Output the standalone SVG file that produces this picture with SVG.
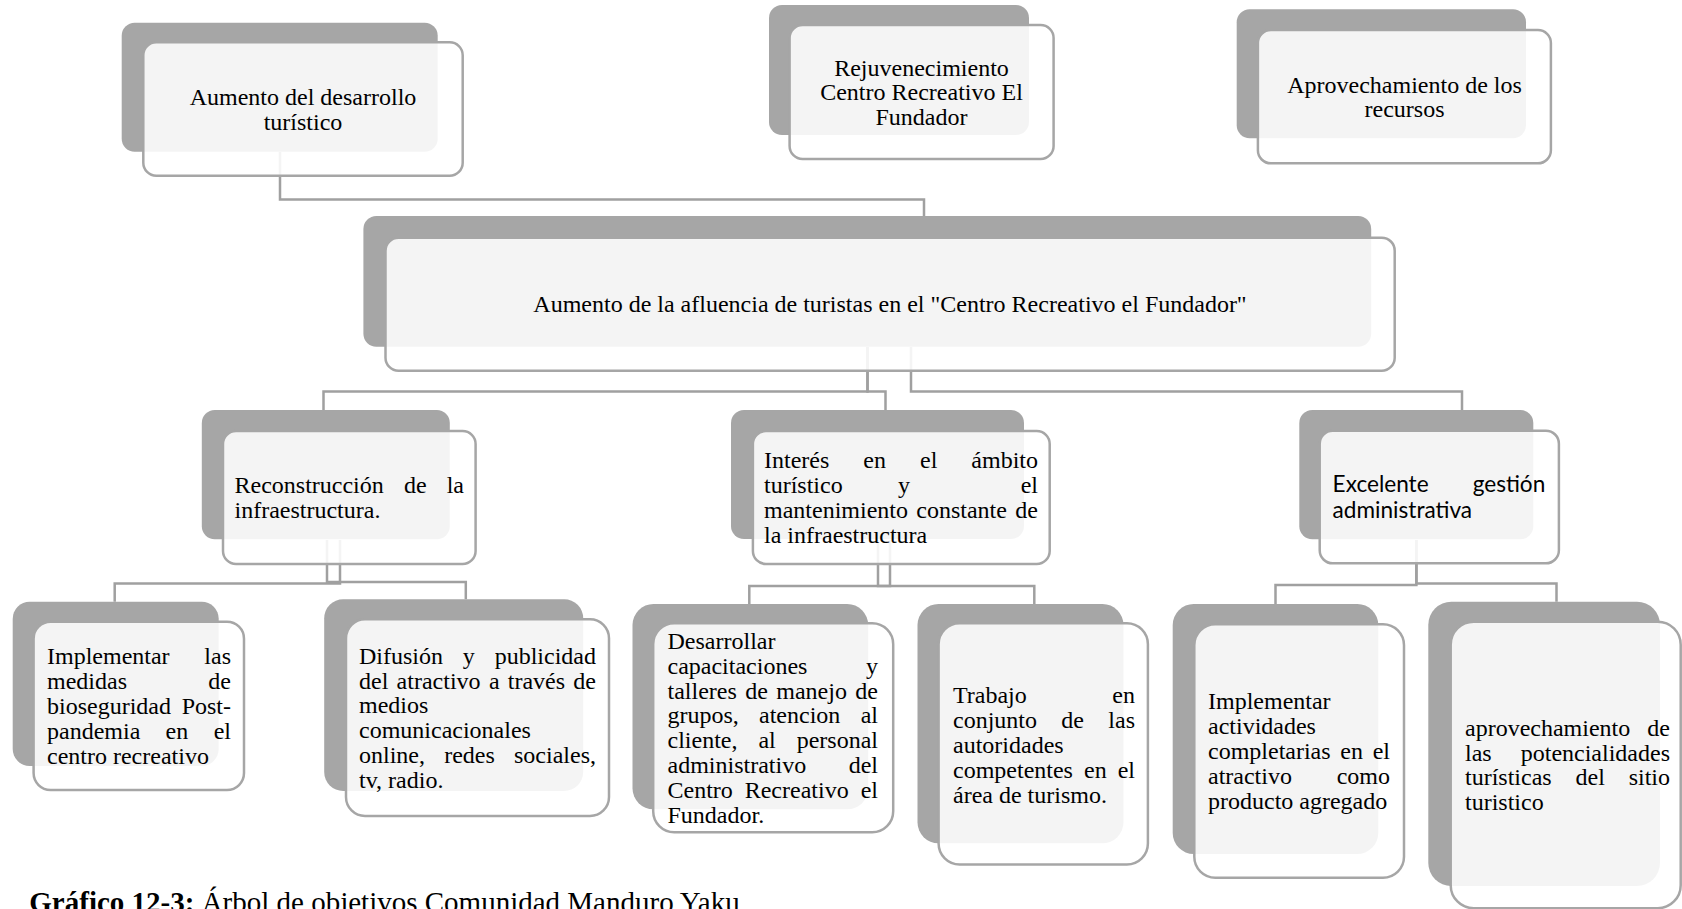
<svg xmlns="http://www.w3.org/2000/svg" width="1682" height="909" viewBox="0 0 1682 909">
<style>
.back{fill:#a6a6a6}
.front{fill:#ffffff;fill-opacity:0.88;stroke:#a6a6a6;stroke-width:2.5}
.conn{fill:none;stroke:#a0a0a0;stroke-width:2.5}
.t{font-family:"Liberation Serif","Times New Roman",serif;font-size:24px;fill:#000}
.c{text-anchor:middle}
.e{text-anchor:end}
.s{font-family:Lato,"Open Sans","Liberation Sans",sans-serif;font-size:22.6px;fill:#000}
.cap{font-family:"Liberation Serif","Times New Roman",serif;font-size:29px;fill:#000}
</style>
<rect width="1682" height="909" fill="#ffffff"/>
<g id="connectors">
<path class="conn" d="M280,152 V199.5 H924 V216"/>
<path class="conn" d="M867.5,347 V391.5 H323.5 V410"/>
<path class="conn" d="M867.5,347 V391.5 H885.5 V410"/>
<path class="conn" d="M911,347 V391.5 H1462 V410"/>
<path class="conn" d="M340,540 V583.5 H114.7 V601.7"/>
<path class="conn" d="M327,540 V582 H465.8 V599.3"/>
<path class="conn" d="M890,540 V586 H749.3 V604"/>
<path class="conn" d="M878,540 V586 H1034.3 V604"/>
<path class="conn" d="M1416.4,540 V585 H1275.5 V604"/>
<path class="conn" d="M1416.4,540 V583.5 H1556.5 V601.7"/>
</g>
<g id="n1">
<rect class="back" x="121.7" y="22.7" width="316" height="129" rx="13"/>
<rect class="front" x="143.3" y="42.3" width="319.4" height="133.4" rx="13"/>
<text class="t c" x="303" y="105">Aumento del desarrollo</text>
<text class="t c" x="303" y="129.5">turístico</text>
</g>
<g id="n2">
<rect class="back" x="769" y="5" width="260" height="130" rx="13"/>
<rect class="front" x="789.6" y="25" width="264" height="134" rx="13"/>
<text class="t c" x="921.5" y="75.5">Rejuvenecimiento</text>
<text class="t c" x="921.5" y="100">Centro Recreativo El</text>
<text class="t c" x="921.5" y="124.5">Fundador</text>
</g>
<g id="n3">
<rect class="back" x="1236.7" y="9.3" width="289.3" height="129" rx="13"/>
<rect class="front" x="1257.9" y="30" width="293" height="133.3" rx="13"/>
<text class="t c" x="1404.5" y="92.5">Aprovechamiento de los</text>
<text class="t c" x="1404.5" y="117">recursos</text>
</g>
<g id="n4">
<rect class="back" x="363.4" y="216" width="1007.8" height="130.7" rx="13"/>
<rect class="front" x="385.5" y="237.7" width="1009.2" height="133" rx="13"/>
<text class="t c" x="890" y="311.5">Aumento de la afluencia de turistas en el "Centro Recreativo el Fundador"</text>
</g>
<g id="n5">
<rect class="back" x="201.8" y="410" width="248" height="129.3" rx="13"/>
<rect class="front" x="223" y="431" width="252.6" height="133" rx="13"/>
<text class="t" y="493"><tspan x="234.5">Reconstrucción</tspan><tspan x="403.9">de</tspan><tspan x="464" text-anchor="end">la</tspan></text>
<text class="t" x="234.5" y="517.8">infraestructura.</text>
</g>
<g id="n6">
<rect class="back" x="731" y="410" width="293" height="129" rx="13"/>
<rect class="front" x="752.9" y="431" width="296.8" height="133" rx="13"/>
<text class="t" y="468.3"><tspan x="764">Interés</tspan><tspan x="863.3">en</tspan><tspan x="920">el</tspan><tspan x="1038" text-anchor="end">ámbito</tspan></text>
<text class="t" y="493.1"><tspan x="764">turístico</tspan><tspan x="898">y</tspan><tspan x="1038" text-anchor="end">el</tspan></text>
<text class="t" y="517.9"><tspan x="764">mantenimiento</tspan><tspan x="916.3">constante</tspan><tspan x="1038" text-anchor="end">de</tspan></text>
<text class="t" x="764" y="542.7">la infraestructura</text>
</g>
<g id="n7">
<rect class="back" x="1299.3" y="410" width="234" height="129.3" rx="13"/>
<rect class="front" x="1319.7" y="430.7" width="239.2" height="132.6" rx="13"/>
<text class="s" y="491.5"><tspan x="1332.6">Excelente</tspan><tspan x="1545.3" text-anchor="end">gestión</tspan></text>
<text class="s" x="1332.6" y="517.5">administrativa</text>
</g>
<g id="n8">
<rect class="back" x="12.7" y="601.7" width="206" height="164.3" rx="17"/>
<rect class="front" x="33.6" y="621.7" width="210.4" height="168.3" rx="17"/>
<text class="t" y="664.3"><tspan x="47">Implementar</tspan><tspan x="231" text-anchor="end">las</tspan></text>
<text class="t" y="689.1"><tspan x="47">medidas</tspan><tspan x="231" text-anchor="end">de</tspan></text>
<text class="t" y="713.9"><tspan x="47">bioseguridad</tspan><tspan x="231" text-anchor="end">Post-</tspan></text>
<text class="t" y="738.7"><tspan x="47">pandemia</tspan><tspan x="165.6">en</tspan><tspan x="231" text-anchor="end">el</tspan></text>
<text class="t" x="47" y="763.5">centro recreativo</text>
</g>
<g id="n9">
<rect class="back" x="324.2" y="599.3" width="259" height="191.7" rx="19"/>
<rect class="front" x="346" y="619.3" width="263" height="196.7" rx="19"/>
<text class="t" y="663.7"><tspan x="359">Difusión</tspan><tspan x="462.8">y</tspan><tspan x="596" text-anchor="end">publicidad</tspan></text>
<text class="t" y="688.5"><tspan x="359">del</tspan><tspan x="396.6">atractivo</tspan><tspan x="488.9">a</tspan><tspan x="507.8">través</tspan><tspan x="596" text-anchor="end">de</tspan></text>
<text class="t" x="359" y="713.3">medios</text>
<text class="t" x="359" y="738.1">comunicacionales</text>
<text class="t" y="762.9"><tspan x="359">online,</tspan><tspan x="444.2">redes</tspan><tspan x="596" text-anchor="end">sociales,</tspan></text>
<text class="t" x="359" y="787.7">tv, radio.</text>
</g>
<g id="n10">
<rect class="back" x="632.5" y="604" width="235.7" height="205.3" rx="21"/>
<rect class="front" x="653.2" y="623.3" width="240" height="209" rx="21"/>
<text class="t" x="667.5" y="649">Desarrollar</text>
<text class="t" y="673.8"><tspan x="667.5">capacitaciones</tspan><tspan x="878" text-anchor="end">y</tspan></text>
<text class="t" y="698.6"><tspan x="667.5">talleres</tspan><tspan x="745.2">de</tspan><tspan x="776.3">manejo</tspan><tspan x="878" text-anchor="end">de</tspan></text>
<text class="t" y="723.4"><tspan x="667.5">grupos,</tspan><tspan x="759">atencion</tspan><tspan x="878" text-anchor="end">al</tspan></text>
<text class="t" y="748.2"><tspan x="667.5">cliente,</tspan><tspan x="758.4">al</tspan><tspan x="878" text-anchor="end">personal</tspan></text>
<text class="t" y="773"><tspan x="667.5">administrativo</tspan><tspan x="878" text-anchor="end">del</tspan></text>
<text class="t" y="797.8"><tspan x="667.5">Centro</tspan><tspan x="744.7">Recreativo</tspan><tspan x="878" text-anchor="end">el</tspan></text>
<text class="t" x="667.5" y="822.6">Fundador.</text>
</g>
<g id="n11">
<rect class="back" x="917.5" y="604" width="206" height="239.3" rx="21"/>
<rect class="front" x="938.6" y="623.3" width="209.3" height="241.3" rx="21"/>
<text class="t" y="703.4"><tspan x="953">Trabajo</tspan><tspan x="1135" text-anchor="end">en</tspan></text>
<text class="t" y="728.2"><tspan x="953">conjunto</tspan><tspan x="1061.3">de</tspan><tspan x="1135" text-anchor="end">las</tspan></text>
<text class="t" x="953" y="753">autoridades</text>
<text class="t" y="777.8"><tspan x="953">competentes</tspan><tspan x="1084">en</tspan><tspan x="1135" text-anchor="end">el</tspan></text>
<text class="t" x="953" y="802.6">área de turismo.</text>
</g>
<g id="n12">
<rect class="back" x="1172.7" y="604" width="205.6" height="250" rx="21"/>
<rect class="front" x="1194.3" y="624.3" width="209.7" height="253.4" rx="21"/>
<text class="t" x="1208" y="709.4">Implementar</text>
<text class="t" x="1208" y="734.2">actividades</text>
<text class="t" y="759"><tspan x="1208">completarias</tspan><tspan x="1340.3">en</tspan><tspan x="1390" text-anchor="end">el</tspan></text>
<text class="t" y="783.8"><tspan x="1208">atractivo</tspan><tspan x="1390" text-anchor="end">como</tspan></text>
<text class="t" x="1208" y="808.6">producto agregado</text>
</g>
<g id="n13">
<rect class="back" x="1428.3" y="601.7" width="231.7" height="284.3" rx="23"/>
<rect class="front" x="1450.7" y="621.7" width="230" height="286.5" rx="23"/>
<text class="t" y="735.8"><tspan x="1465">aprovechamiento</tspan><tspan x="1670" text-anchor="end">de</tspan></text>
<text class="t" y="760.6"><tspan x="1465">las</tspan><tspan x="1670" text-anchor="end">potencialidades</tspan></text>
<text class="t" y="785.4"><tspan x="1465">turísticas</tspan><tspan x="1575.5">del</tspan><tspan x="1670" text-anchor="end">sitio</tspan></text>
<text class="t" x="1465" y="810.2">turistico</text>
</g>
<text class="cap" x="29.3" y="912"><tspan font-weight="bold">Gráfico 12-3:</tspan> Árbol de objetivos Comunidad Manduro Yaku</text>
</svg>
